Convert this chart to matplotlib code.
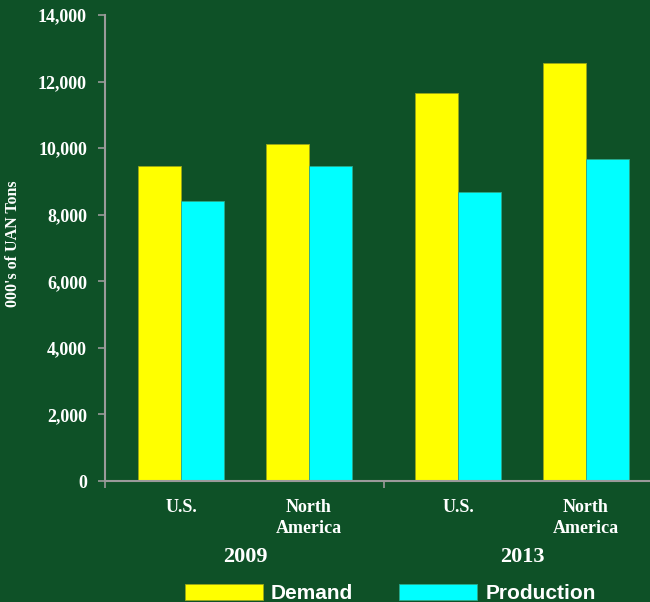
import matplotlib
matplotlib.use("Agg")
import matplotlib.pyplot as plt
import numpy as np

# data (000's of UAN tons)
regions = ["U.S.", "North\nAmerica", "U.S.", "North\nAmerica"]
years = ["2009", "2013"]
demand = [9450, 10130, 11650, 12550]
production = [8410, 9460, 8670, 9670]
yticks = [0, 2000, 4000, 6000, 8000, 10000, 12000, 14000]

bg = "#0e5127"
yellow = "#ffff00"
cyan = "#00ffff"
serif = ["Liberation Serif", "DejaVu Serif"]

fig = plt.figure(figsize=(6.5, 6.02), dpi=100, facecolor=bg)
ax = fig.add_axes([105 / 650, 1 - 481 / 602, 1 - 105 / 650, 466 / 602])
ax.set_facecolor(bg)

# pair centres, second year group set a bit further apart
x = np.array([0, 1, 2.164, 3.164])
w = 0.336
ax.bar(x - w / 2, demand, w, color=yellow, edgecolor="#9aa51a", linewidth=0.6, label="Demand")
ax.bar(x + w / 2, production, w, color=cyan, edgecolor="#2aa88a", linewidth=0.6, label="Production")

ax.set_xlim(-0.594, 3.664)
ax.set_ylim(0, 14000)

for s in ["top", "right"]:
    ax.spines[s].set_visible(False)
for s in ["left", "bottom"]:
    ax.spines[s].set_color("#9a9a9a")
    ax.spines[s].set_linewidth(1.5)

ax.set_yticks(yticks)
ax.set_yticklabels([f"{v:,}" for v in yticks], family=serif, fontweight="bold",
                   fontsize=13, color="white")
ax.tick_params(axis="y", colors="#9a9a9a", length=5, width=1.2, pad=8, labelcolor="white")

ax.set_xticks([])
ax.set_xticks([-0.594, (x[1] + x[2]) / 2], minor=True)
ax.tick_params(axis="x", which="minor", colors="#9a9a9a", length=5, width=1.2)

for xi, r in zip(x, regions):
    ax.text(xi, -18 / 466, r, transform=ax.get_xaxis_transform(), ha="center", va="top",
            family=serif, fontweight="bold", fontsize=13, color="white", linespacing=1.3)
for i, yr in enumerate(years):
    xc = (x[2 * i] + x[2 * i + 1]) / 2
    ax.text(xc, -76 / 466, yr, transform=ax.get_xaxis_transform(), ha="center", va="center",
            family=serif, fontweight="bold", fontsize=16, color="white")

ax.set_ylabel("000's of UAN Tons", family=serif, fontweight="bold", fontsize=11.5,
              color="white")
ax.yaxis.set_label_coords(-84 / 545, 0.51)

fig.legend(loc="lower left", bbox_to_anchor=(185 / 650, -0.002), ncol=2, frameon=False,
           prop={"family": ["Liberation Sans", "DejaVu Sans"], "weight": "bold", "size": 15},
           labelcolor="white", handlelength=3.75, handleheight=0.87, handletextpad=0.38,
           columnspacing=2.2, borderpad=0, borderaxespad=0)

fig.savefig("out.png", dpi=100, facecolor=bg)
